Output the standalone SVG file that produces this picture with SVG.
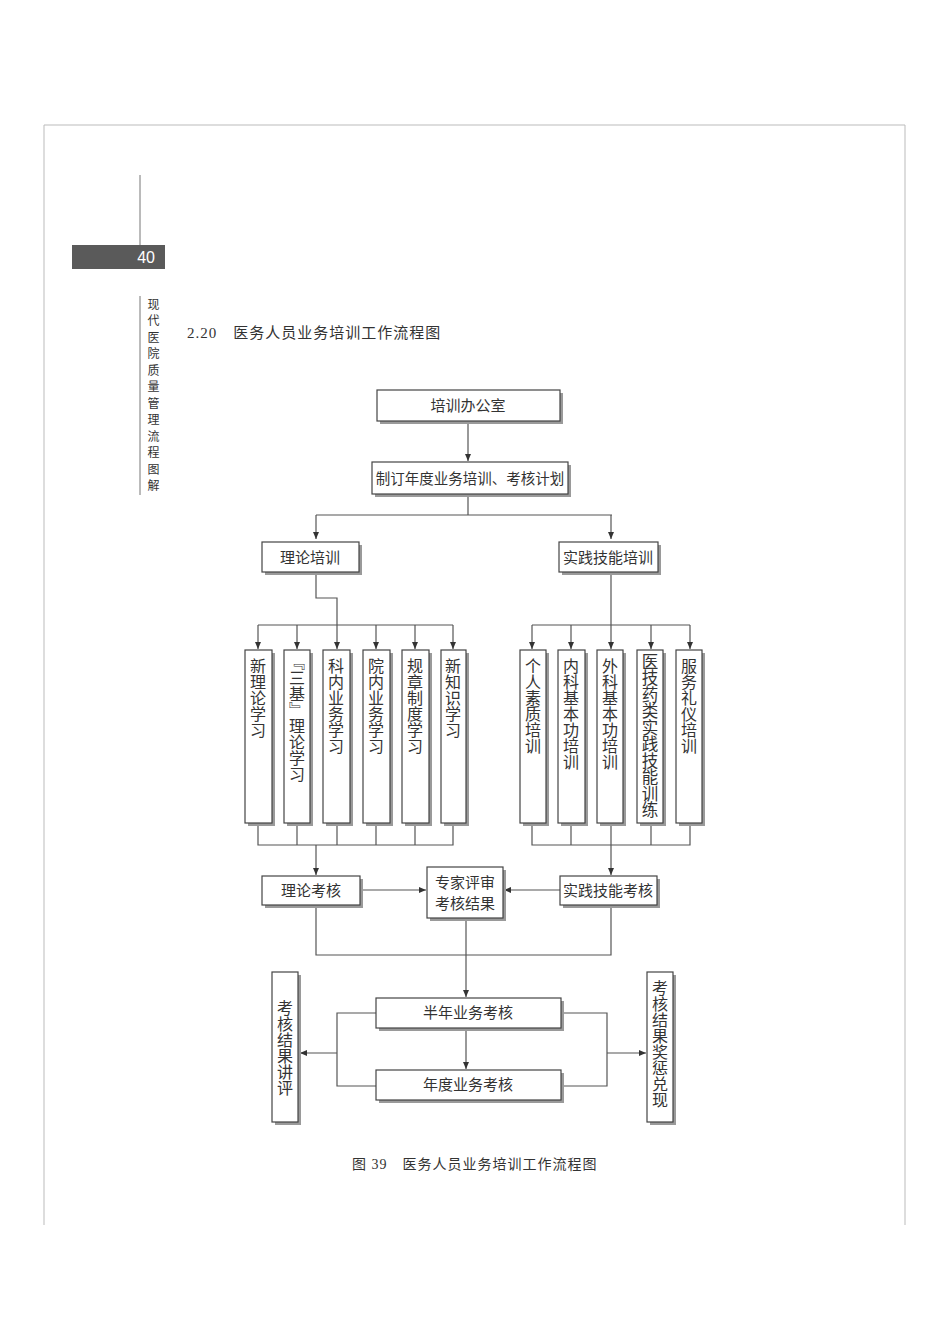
<svg xmlns="http://www.w3.org/2000/svg" width="950" height="1344" viewBox="0 0 950 1344">
<style>
.sh{fill:#9a9a9a}
.bx{fill:#fff;stroke:#444;stroke-width:1.2}
.t{font-family:"Noto Sans CJK SC","Noto Sans CJK JP",sans-serif;font-size:15px;fill:#333;text-anchor:middle}
.v{font-family:"Noto Sans CJK SC","Noto Sans CJK JP",sans-serif;font-size:16px;fill:#333;writing-mode:vertical-rl}
.ln{fill:none;stroke:#555;stroke-width:1.2}
.pg{fill:none;stroke:#bbb;stroke-width:1}
.s{font-family:"Liberation Serif","Noto Sans CJK SC",serif;fill:#333}
</style>
<defs>
<marker id="a" markerWidth="8" markerHeight="8" refX="7" refY="4" orient="auto" markerUnits="userSpaceOnUse">
<path d="M0,1 L7,4 L0,7 Z" fill="#333"/>
</marker>
</defs>
<rect width="950" height="1344" fill="#fff"/>
<g id="page">
<path class="pg" d="M44,1225 V125 H905 V1225"/>
<line x1="140" y1="175" x2="140" y2="245" stroke="#777"/>
<rect x="72" y="245" width="93" height="24" fill="#5a5a5a"/>
<text x="155" y="263" font-family="Liberation Sans,sans-serif" font-size="16" fill="#fff" text-anchor="end">40</text>
<line x1="140" y1="296" x2="140" y2="495" stroke="#777"/>
<text x="152" y="298" class="s" font-size="12" style="writing-mode:vertical-rl;letter-spacing:4.5px">现代医院质量管理流程图解</text>
<text x="187" y="338" class="s" font-size="15" style="letter-spacing:1px">2.20　医务人员业务培训工作流程图</text>
<text x="352" y="1169" class="s" font-size="14" style="letter-spacing:1px">图 39　医务人员业务培训工作流程图</text>
</g>
<g id="connectors" class="ln">
<line x1="468" y1="421" x2="468" y2="461" marker-end="url(#a)"/>
<path d="M468,494 V515 M316,515 H612"/>
<line x1="316" y1="515" x2="316" y2="539" marker-end="url(#a)"/>
<line x1="611" y1="515" x2="611" y2="539" marker-end="url(#a)"/>
<path d="M316,572 V598 H337 V625 M258,625 H453 M611,572 V625 M532,625 H690"/>
<line x1="258" y1="625" x2="258" y2="649" marker-end="url(#a)"/>
<line x1="297" y1="625" x2="297" y2="649" marker-end="url(#a)"/>
<line x1="337" y1="625" x2="337" y2="649" marker-end="url(#a)"/>
<line x1="376" y1="625" x2="376" y2="649" marker-end="url(#a)"/>
<line x1="415" y1="625" x2="415" y2="649" marker-end="url(#a)"/>
<line x1="453" y1="625" x2="453" y2="649" marker-end="url(#a)"/>
<line x1="532" y1="625" x2="532" y2="649" marker-end="url(#a)"/>
<line x1="571" y1="625" x2="571" y2="649" marker-end="url(#a)"/>
<line x1="611" y1="625" x2="611" y2="649" marker-end="url(#a)"/>
<line x1="651" y1="625" x2="651" y2="649" marker-end="url(#a)"/>
<line x1="690" y1="625" x2="690" y2="649" marker-end="url(#a)"/>
<path d="M258,823 V845 H453 V823 M297,823 V845 M337,823 V845 M376,823 V845 M415,823 V845"/>
<path d="M532,823 V845 H690 V823 M571,823 V845 M611,823 V845 M651,823 V845"/>
<line x1="316" y1="845" x2="316" y2="875" marker-end="url(#a)"/>
<line x1="611" y1="845" x2="611" y2="875" marker-end="url(#a)"/>
<line x1="360" y1="890" x2="426" y2="890" marker-end="url(#a)"/>
<line x1="560" y1="890" x2="504" y2="890" marker-end="url(#a)"/>
<path d="M316,905 V955 H611 V905"/>
<line x1="466" y1="918" x2="466" y2="997" marker-end="url(#a)"/>
<line x1="466" y1="1028" x2="466" y2="1069" marker-end="url(#a)"/>
<path d="M376,1013 H337 V1086 H385"/>
<line x1="337" y1="1053" x2="300" y2="1053" marker-end="url(#a)"/>
<path d="M561,1013 H607 V1086 H561"/>
<line x1="607" y1="1053" x2="646" y2="1053" marker-end="url(#a)"/>
</g>
<g id="n1"><rect class="sh" x="380" y="393" width="183" height="31"/><rect class="bx" x="377" y="390" width="183" height="31"/><text class="t" x="468" y="411">培训办公室</text></g>
<g id="n2"><rect class="sh" x="375" y="465" width="196" height="32"/><rect class="bx" x="372" y="462" width="196" height="32"/><text class="t" x="470" y="484" style="font-size:14.5px">制订年度业务培训、考核计划</text></g>
<g id="n3"><rect class="sh" x="265" y="545" width="97" height="30"/><rect class="bx" x="262" y="542" width="97" height="30"/><text class="t" x="310" y="563">理论培训</text></g>
<g id="n4"><rect class="sh" x="562" y="545" width="99" height="30"/><rect class="bx" x="559" y="542" width="99" height="30"/><text class="t" x="608" y="563">实践技能培训</text></g>
<g id="v1"><rect class="sh" x="248" y="653" width="27" height="173"/><rect class="bx" x="245" y="650" width="27" height="173"/><text class="v" x="258" y="658">新理论学习</text></g>
<g id="v2"><rect class="sh" x="287" y="653" width="26" height="173"/><rect class="bx" x="284" y="650" width="26" height="173"/><text class="v" x="297" y="654">『三基』理论学习</text></g>
<g id="v3"><rect class="sh" x="326" y="653" width="27" height="173"/><rect class="bx" x="323" y="650" width="27" height="173"/><text class="v" x="336" y="658">科内业务学习</text></g>
<g id="v4"><rect class="sh" x="366" y="653" width="27" height="173"/><rect class="bx" x="363" y="650" width="27" height="173"/><text class="v" x="376" y="658">院内业务学习</text></g>
<g id="v5"><rect class="sh" x="405" y="653" width="27" height="173"/><rect class="bx" x="402" y="650" width="27" height="173"/><text class="v" x="415" y="658">规章制度学习</text></g>
<g id="v6"><rect class="sh" x="444" y="653" width="25" height="173"/><rect class="bx" x="441" y="650" width="25" height="173"/><text class="v" x="453" y="658">新知识学习</text></g>
<g id="v7"><rect class="sh" x="523" y="653" width="26" height="173"/><rect class="bx" x="520" y="650" width="26" height="173"/><text class="v" x="533" y="658">个人素质培训</text></g>
<g id="v8"><rect class="sh" x="561" y="653" width="27" height="173"/><rect class="bx" x="558" y="650" width="27" height="173"/><text class="v" x="571" y="658">内科基本功培训</text></g>
<g id="v9"><rect class="sh" x="600" y="653" width="26" height="173"/><rect class="bx" x="597" y="650" width="26" height="173"/><text class="v" x="610" y="658">外科基本功培训</text></g>
<g id="v10"><rect class="sh" x="640" y="653" width="26" height="173"/><rect class="bx" x="637" y="650" width="26" height="173"/><text class="v" x="650" y="653" style="font-size:16.5px">医技药类实践技能训练</text></g>
<g id="v11"><rect class="sh" x="679" y="653" width="26" height="173"/><rect class="bx" x="676" y="650" width="26" height="173"/><text class="v" x="689" y="658">服务礼仪培训</text></g>
<g id="n5"><rect class="sh" x="265" y="879" width="98" height="29"/><rect class="bx" x="262" y="876" width="98" height="29"/><text class="t" x="311" y="896">理论考核</text></g>
<g id="n6"><rect class="sh" x="430" y="870" width="76" height="51"/><rect class="bx" x="427" y="867" width="76" height="51"/><text class="t" x="465" y="888">专家评审</text><text class="t" x="465" y="909">考核结果</text></g>
<g id="n7"><rect class="sh" x="563" y="879" width="97" height="29"/><rect class="bx" x="560" y="876" width="97" height="29"/><text class="t" x="608" y="896">实践技能考核</text></g>
<g id="n8"><rect class="sh" x="379" y="1001" width="185" height="30"/><rect class="bx" x="376" y="998" width="185" height="30"/><text class="t" x="468" y="1018">半年业务考核</text></g>
<g id="n9"><rect class="sh" x="379" y="1073" width="185" height="30"/><rect class="bx" x="376" y="1070" width="185" height="30"/><text class="t" x="468" y="1090">年度业务考核</text></g>
<g id="n10"><rect class="sh" x="275" y="975" width="26" height="150"/><rect class="bx" x="272" y="972" width="26" height="150"/><text class="v" x="285" y="1000">考核结果讲评</text></g>
<g id="n11"><rect class="sh" x="650" y="975" width="26" height="150"/><rect class="bx" x="647" y="972" width="26" height="150"/><text class="v" x="660" y="980">考核结果奖惩兑现</text></g>
</svg>
